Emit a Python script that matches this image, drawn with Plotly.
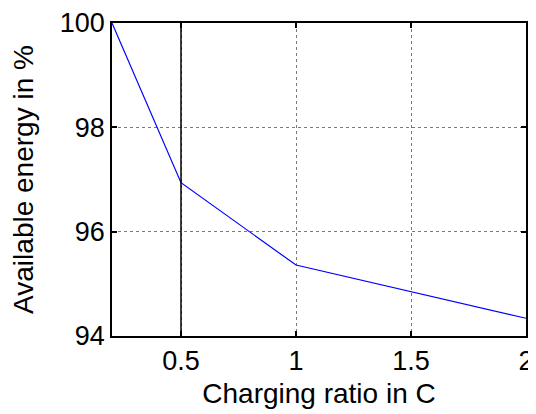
import plotly.graph_objects as go

charging_ratio = [0.2, 0.5, 1.0, 1.5, 2.0]
available_energy = [100.0, 96.94, 95.36, 94.85, 94.34]
x_ticks = [0.5, 1, 1.5, 2]
y_ticks = [94, 96, 98, 100]
x_tick_labels = ["0.5", "1", "1.5", "2"]
y_tick_labels = ["94", "96", "98", "100"]

FONT = "Liberation Sans, Arial, sans-serif"

fig = go.Figure()
fig.add_trace(go.Scatter(x=charging_ratio, y=available_energy, mode="lines",
                         line=dict(color="#0000ff", width=1.2), showlegend=False))

# solid black grid line at the first x tick (as in reference)
fig.add_shape(type="line", xref="x", yref="paper", x0=x_ticks[0], x1=x_ticks[0],
              y0=0, y1=1, line=dict(color="black", width=1.5), layer="above")

axis_common = dict(showline=True, linecolor="black", linewidth=1.5, mirror="ticks",
                   ticks="inside", ticklen=5, tickwidth=1.5, tickcolor="black",
                   showgrid=True, gridcolor="#7a7a7a", gridwidth=1, griddash="dot",
                   zeroline=False, automargin=False, ticklabeloverflow="allow",
                   tickfont=dict(family=FONT, size=27, color="black"))

fig.update_xaxes(range=[0.2, 2], tickvals=x_ticks, ticktext=x_tick_labels,
                 title=dict(text="Charging ratio in C", font=dict(family=FONT, size=28, color="black"), standoff=8),
                 **axis_common)
fig.update_yaxes(range=[94, 100], tickvals=y_ticks, ticktext=y_tick_labels,
                 title=dict(text="Available energy in %", font=dict(family=FONT, size=28, color="black"), standoff=28),
                 **axis_common)

# page body has an 8px margin; size the figure so it fits the 536x414 window
fig.update_layout(width=528, height=406, margin=dict(l=104, r=10, t=15, b=78),
                  plot_bgcolor="white", paper_bgcolor="white",
                  font=dict(family=FONT, size=27, color="black"))

fig.write_html("out.html")
